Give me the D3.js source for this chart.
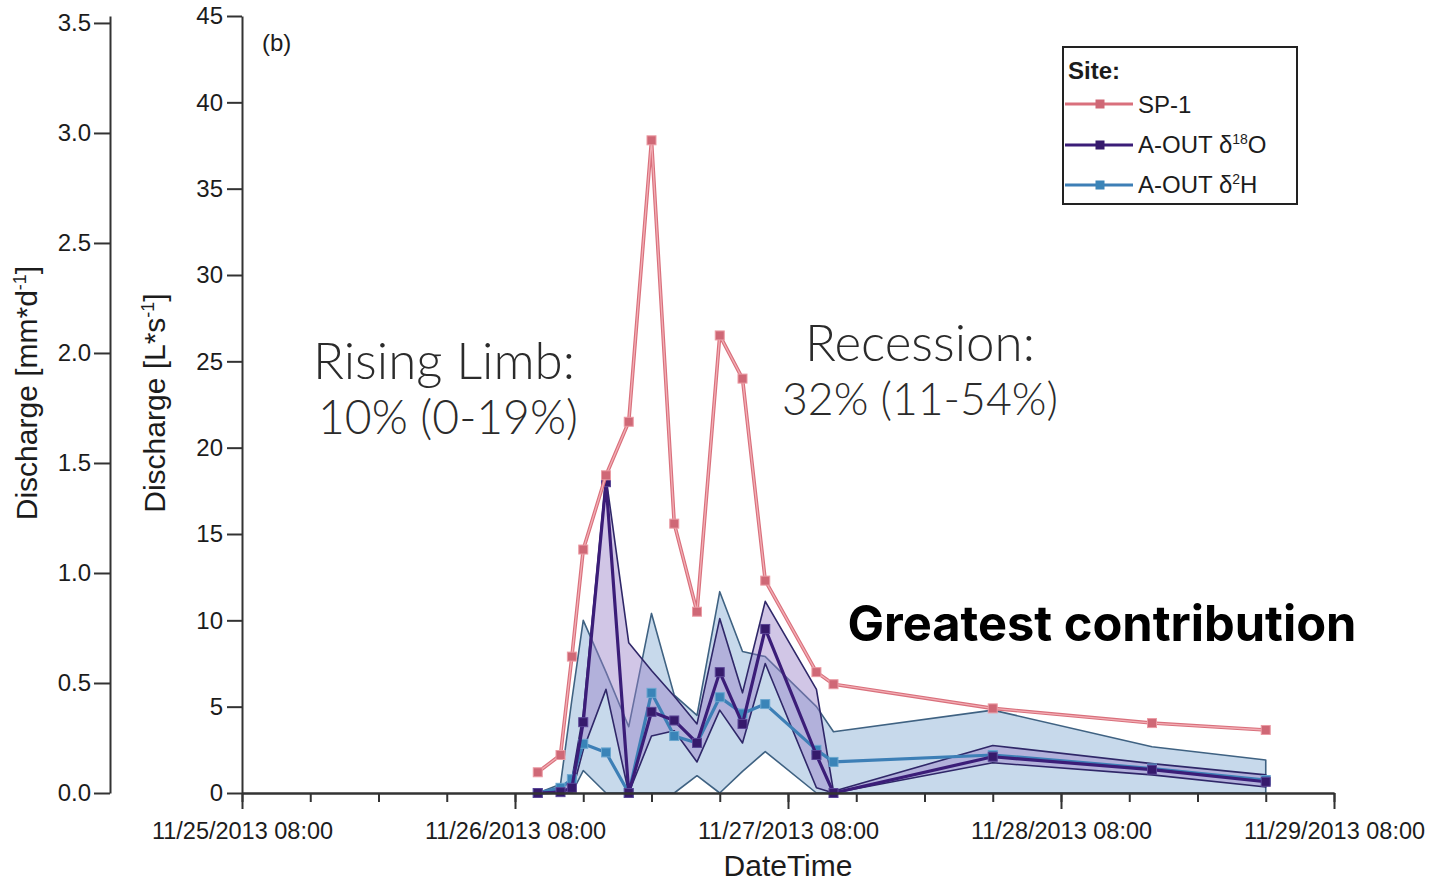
<!DOCTYPE html>
<html><head><meta charset="utf-8">
<script src="https://cdn.jsdelivr.net/npm/d3@7"></script>
<style>
html,body{margin:0;padding:0;background:#fff;}
svg{display:block;font-family:"Liberation Sans",Arial,sans-serif;}
</style></head><body>
<svg id="chart" width="1432" height="882"></svg>
<script>
// ---------- data ----------
const times = ["2013-11-26 10:00","2013-11-26 12:00","2013-11-26 13:00","2013-11-26 14:00","2013-11-26 16:00","2013-11-26 18:00","2013-11-26 20:00","2013-11-26 22:00","2013-11-27 00:00","2013-11-27 02:00","2013-11-27 04:00","2013-11-27 06:00","2013-11-27 10:30","2013-11-27 12:00","2013-11-28 02:00","2013-11-28 16:00","2013-11-29 02:00"];
const sp1        = [1.2, 2.2, 7.9, 14.1, 18.4, 21.5, 37.8, 15.6, 10.5, 26.5, 24.0, 12.3, 7.0, 6.3, 4.9, 4.05, 3.65];
const aOut18O    = [0, 0.05, 0.3, 4.1, 18.0, 0, 4.7, 4.2, 2.9, 7.0, 4.0, 9.5, 2.2, 0, 2.1, 1.35, 0.65];
const aOut18OLow = [0, 0, 0, 2.5, 6.0, 0, 3.3, 3.6, 1.8, 4.8, 2.9, 7.5, 0.3, 0, 1.75, 1.05, 0.35];
const aOut18OHigh= [0, 0.2, 0.8, 4.6, 18.3, 8.7, 7.1, 5.6, 4.0, 10.1, 5.8, 11.1, 6.0, 0.1, 2.75, 1.7, 1.05];
const aOut2H     = [0, 0.3, 0.8, 2.85, 2.35, 0, 5.8, 3.3, 2.9, 5.55, 4.6, 5.15, 2.5, 1.8, 2.2, 1.42, 0.75];
const aOut2HLow  = [0, 0, 0, 1.3, 0, 0, 0, 0, 1.0, 0, 1.25, 2.4, 0, 0, 0, 0, 0];
const aOut2HHigh = [0, 0.5, 5.4, 10.0, 7.0, 3.84, 10.4, 5.67, 4.5, 11.66, 8.2, 7.9, 5.0, 3.55, 4.8, 2.68, 1.91];
const xMajorTicks = ["2013-11-25 08:00","2013-11-26 08:00","2013-11-27 08:00","2013-11-28 08:00","2013-11-29 08:00"];
const yTicksLs = [0,5,10,15,20,25,30,35,40,45];
const yTicksMm = [0,0.5,1.0,1.5,2.0,2.5,3.0,3.5];
const mmPerLs = 0.07848;   // conversion L/s -> mm/d for the catchment
const seriesNames = ["SP-1","A-OUT δ18O","A-OUT δ2H"];

// ---------- setup ----------
const parse = d3.utcParse("%Y-%m-%d %H:%M");
const T = times.map(parse);
const svg = d3.select("#chart");
const ink = "#1c1c1c", axisCol = "#333";

const x = d3.scaleUtc().domain([parse(xMajorTicks[0]), parse(xMajorTicks[4])]).range([242, 1334]);
const y = d3.scaleLinear().domain([0,45]).range([793,16]);
const yMm = d3.scaleLinear().domain([0,45*mmPerLs]).range([793,16]);

const colSP = "#d9707c", colO = "#3b1d78", colH = "#3d7fb6";

// ---------- bands ----------
const idx = d3.range(T.length);
function band(lo, hi){
  return d3.area().x(i=>x(T[i])).y0(i=>y(lo[i])).y1(i=>y(hi[i]))(idx);
}
svg.append("path").attr("d", band(aOut2HLow, aOut2HHigh) + "Z")
  .attr("fill","#8fb3d8").attr("fill-opacity",0.5)
  .attr("stroke","#3f6282").attr("stroke-width",1.6).attr("stroke-linejoin","round");
svg.append("path").attr("d", band(aOut18OLow, aOut18OHigh) + "Z")
  .attr("fill","#9a80c8").attr("fill-opacity",0.45)
  .attr("stroke","#2f2768").attr("stroke-width",1.6).attr("stroke-linejoin","round");

// ---------- lines ----------
function lineOf(arr){ return d3.line().x(i=>x(T[i])).y(i=>y(arr[i]))(idx); }
function markers(arr, fill, stroke, s){
  svg.append("g").selectAll("rect").data(idx).join("rect")
    .attr("x", i=>x(T[i])-s/2).attr("y", i=>y(arr[i])-s/2)
    .attr("width", s).attr("height", s)
    .attr("fill", fill).attr("stroke", stroke).attr("stroke-width",1);
}
// A-OUT 2H
svg.append("path").attr("d", lineOf(aOut2H)).attr("fill","none").attr("stroke",colH).attr("stroke-width",3.2).attr("stroke-linejoin","round");
markers(aOut2H, "#3a84b8", "#6aa6cf", 9);
// A-OUT 18O
svg.append("path").attr("d", lineOf(aOut18O)).attr("fill","none").attr("stroke",colO).attr("stroke-width",3.2).attr("stroke-linejoin","round");
markers(aOut18O, "#361a6c", "#5a4596", 9);
// SP-1
svg.append("path").attr("d", lineOf(sp1)).attr("fill","none").attr("stroke",colSP).attr("stroke-width",3.6).attr("stroke-linejoin","round");
svg.append("path").attr("d", lineOf(sp1)).attr("fill","none").attr("stroke","#f3aeb5").attr("stroke-width",1.3).attr("stroke-linejoin","round");
markers(sp1, "#cf6876", "#eb9ba4", 9);

// ---------- axes ----------
function styleAxis(g){
  g.selectAll(".domain").attr("stroke",axisCol).attr("stroke-width",2);
  g.selectAll(".tick line").attr("stroke",axisCol).attr("stroke-width",2);
  g.selectAll(".tick text").attr("fill",ink).attr("font-size",24).attr("font-family","Liberation Sans, Arial, sans-serif");
}
const gL = svg.append("g").attr("transform","translate(110,0)")
  .call(d3.axisLeft(yMm).tickValues(yTicksMm).tickFormat(d3.format(".1f")).tickSize(16).tickSizeOuter(0).tickPadding(3));
styleAxis(gL);
const gR = svg.append("g").attr("transform","translate(242,0)")
  .call(d3.axisLeft(y).tickValues(yTicksLs).tickSize(15).tickSizeOuter(0).tickPadding(4));
styleAxis(gR);
const minor = d3.utcHour.range(parse(xMajorTicks[0]), d3.utcHour.offset(parse(xMajorTicks[4]),1), 6);
const gXm = svg.append("g").attr("transform","translate(0,793)")
  .call(d3.axisBottom(x).tickValues(minor).tickSize(9).tickSizeOuter(0).tickFormat(""));
styleAxis(gXm);
const gX = svg.append("g").attr("transform","translate(0,793)")
  .call(d3.axisBottom(x).tickValues(xMajorTicks.map(parse)).tickSize(16).tickSizeOuter(0).tickPadding(13)
        .tickFormat(d3.utcFormat("%m/%d/%Y %H:%M")));
styleAxis(gX);
gX.selectAll(".tick text").attr("font-size",23.5);

// axis titles
svg.append("text").attr("x",788).attr("y",876).attr("text-anchor","middle")
  .attr("font-size",30).attr("fill",ink).text("DateTime");
function yTitle(xp, yc, unitA, unitB){
  const t = svg.append("text").attr("transform",`translate(${xp},${yc}) rotate(-90)`)
    .attr("text-anchor","middle").attr("font-size",30).attr("fill",ink);
  t.append("tspan").text("Discharge [" + unitA);
  t.append("tspan").attr("dy",-11).attr("font-size",18).text("-1");
  t.append("tspan").attr("dy",11).text("]");
}
yTitle(37, 393, "mm*d");
yTitle(165, 403, "L*s");

// panel label
svg.append("text").attr("x",262).attr("y",51).attr("font-size",24).attr("fill",ink).text("(b)");

// ---------- legend ----------
const lg = svg.append("g");
lg.append("rect").attr("x",1063).attr("y",47).attr("width",234).attr("height",157)
  .attr("fill","#fff").attr("stroke","#222").attr("stroke-width",2);
lg.append("text").attr("x",1068).attr("y",79).attr("font-size",24).attr("font-weight","bold").attr("fill",ink).text("Site:");
const legItems = [
  {name: seriesNames[0], col: colSP, mk:"#cf6876", y:104, tb:113},
  {name: seriesNames[1], col: colO, mk:"#361a6c", y:145, tb:153},
  {name: seriesNames[2], col: colH, mk:"#3a84b8", y:185, tb:193}
];
legItems.forEach((d,k)=>{
  lg.append("line").attr("x1",1065).attr("x2",1133).attr("y1",d.y).attr("y2",d.y).attr("stroke",d.col).attr("stroke-width",3.2);
  lg.append("rect").attr("x",1100-4.5).attr("y",d.y-4.5).attr("width",9).attr("height",9).attr("fill",d.mk);
  const t = lg.append("text").attr("x",1138).attr("y",d.tb).attr("font-size",24).attr("fill",ink);
  if(k===0){ t.text(d.name); }
  else {
    const iso = k===1 ? "18" : "2", el = k===1 ? "O" : "H";
    t.append("tspan").text("A-OUT δ");
    t.append("tspan").attr("dy",-9).attr("font-size",14).text(iso);
    t.append("tspan").attr("dy",9).text(el);
  }
});

// ---------- annotations ----------
function fitText(txt, cx, by, width, fam, weight, col){
  const t = svg.append("text").attr("x",cx).attr("y",by).attr("text-anchor","middle")
    .attr("font-family",fam).attr("font-weight",weight).attr("fill",col).attr("font-size",48).text(txt);
  const w = t.node().getComputedTextLength();
  t.attr("font-size", 48*width/w);
  return t;
}
const thin = "Lato, 'Open Sans', sans-serif";
fitText("Rising Limb:", 444, 379, 262, thin, 300, "#2b2b2b");
fitText("10% (0-19%)", 448, 434, 260, thin, 300, "#2b2b2b");
fitText("Recession:", 920, 361, 230, thin, 300, "#2b2b2b");
fitText("32% (11-54%)", 920, 415, 276, thin, 300, "#2b2b2b");
fitText("Greatest contribution", 1102, 641, 509, "Inter, 'Open Sans', sans-serif", 700, "#000");
</script></body></html>
